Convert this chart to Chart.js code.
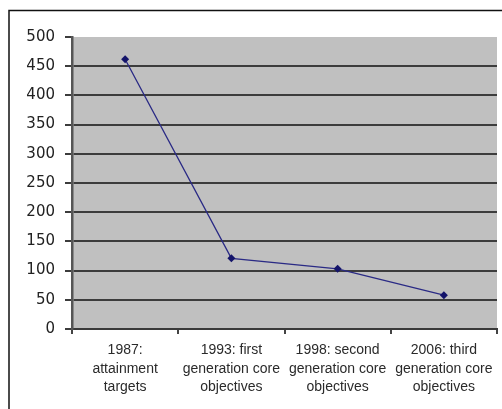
<!DOCTYPE html>
<html><head><meta charset="utf-8">
<script src="https://cdn.jsdelivr.net/npm/chart.js@4/dist/chart.umd.min.js"></script>
<style>html,body{margin:0;padding:0;background:#fff;}#wrap{width:502px;height:409px;position:relative;}</style>
</head><body><div id="wrap"><canvas id="c" width="502" height="409"></canvas></div>
<script>
const categories = [
  ["1987:", "attainment", "targets"],
  ["1993: first", "generation core", "objectives"],
  ["1998: second", "generation core", "objectives"],
  ["2006: third", "generation core", "objectives"]
];
const values = [462, 121, 103, 58];
const yTicks = [0, 50, 100, 150, 200, 250, 300, 350, 400, 450, 500];

const framePlugin = {
  id: 'frame',
  beforeDraw(chart) {
    const {ctx, chartArea: a} = chart;
    ctx.save();
    ctx.fillStyle = '#fff';
    ctx.fillRect(0, 0, chart.width, chart.height);
    ctx.fillStyle = '#c0c0c0';
    ctx.fillRect(a.left, a.top, a.right - a.left, a.bottom - a.top);
    ctx.strokeStyle = '#111';
    ctx.lineWidth = 1.5;
    ctx.beginPath();
    ctx.moveTo(9, chart.height);
    ctx.lineTo(9, 10.5);
    ctx.lineTo(chart.width, 10.5);
    ctx.stroke();
    ctx.restore();
  }
};

new Chart(document.getElementById('c'), {
  type: 'line',
  data: {
    labels: categories,
    datasets: [{
      data: values,
      borderColor: '#2a2a85',
      backgroundColor: '#14146a',
      borderWidth: 1.3,
      pointStyle: 'rectRot',
      pointRadius: 4,
      pointBorderWidth: 0,
      tension: 0
    }]
  },
  options: {
    responsive: false,
    animation: false,
    devicePixelRatio: 1,
    layout: { padding: { left: 0, top: 37, right: 5, bottom: 0 } },
    plugins: { legend: { display: false }, tooltip: { enabled: false } },
    scales: {
      x: {
        offset: true,
        afterFit(s) { s.height = 80; },
        grid: { offset: true, drawOnChartArea: false, drawTicks: true, tickLength: 5, color: '#444', lineWidth: 2 },
        border: { display: true, color: '#3a3a3a', width: 2 },
        ticks: { color: '#2a2a2a', font: { family: 'Arial, "Liberation Sans"', size: 14, lineHeight: 1.32 }, padding: 7, maxRotation: 0, autoSkip: false },
      },
      y: {
        min: 0, max: 500,
        afterFit(s) { s.width = 72; },
        afterBuildTicks(s) { s.ticks = yTicks.map(v => ({ value: v })); },
        grid: {
          color: ctx => (ctx.tick && ctx.tick.value === 500) ? 'rgba(0,0,0,0)' : '#3c3c3c',
          tickColor: '#3c3c3c',
          lineWidth: 2,
          tickLength: 7
        },
        border: { display: true, color: '#555', width: 2.5 },
        ticks: { color: '#222', font: { family: '"DejaVu Sans"', size: 15 }, padding: 10 }
      }
    }
  },
  plugins: [framePlugin]
});
</script></body></html>
